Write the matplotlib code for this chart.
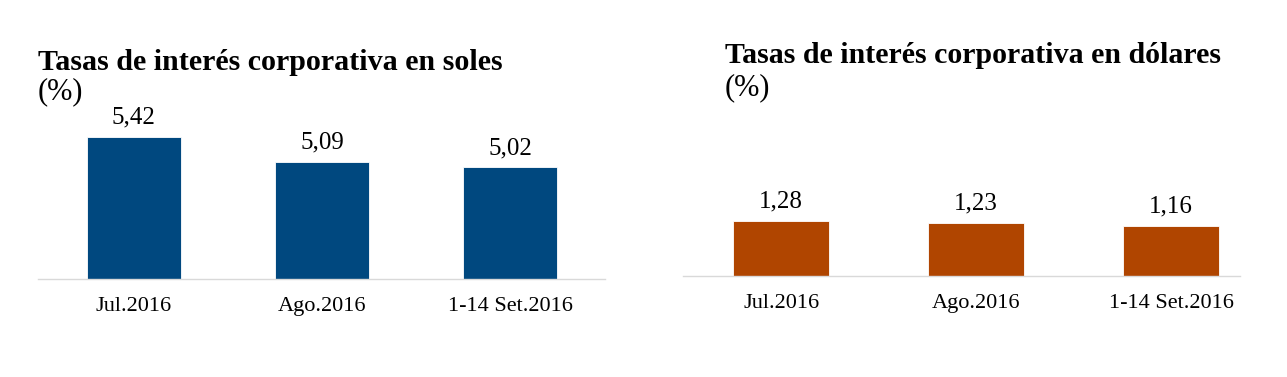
import matplotlib.pyplot as plt

# datos
categorias = ["Jul.2016", "Ago.2016", "1-14 Set.2016"]
tasas_soles = [5.42, 5.09, 5.02]
tasas_dolares = [1.28, 1.23, 1.16]

plt.rcParams['font.family'] = ['Liberation Serif', 'DejaVu Serif']

W, H = 1287, 377
fig = plt.figure(figsize=(W / 100, H / 100), dpi=100)


def px_axes(x0, x1, y_top, y_bot):
    # pixel box -> figure fraction
    return fig.add_axes([x0 / W, 1 - y_bot / H, (x1 - x0) / W, (y_bot - y_top) / H])


def panel(ax, vals, color, ylim, xlim, width):
    pos = list(range(len(categorias)))
    ax.bar(pos, vals, width=width, color=color, edgecolor='white', linewidth=0.6)
    for p, v in zip(pos, vals):
        ax.annotate(f"{v:.2f}".replace('.', ','), (p, v), xytext=(0, 6),
                    textcoords='offset points', ha='center', va='bottom', fontsize=18)
    ax.set_ylim(*ylim)
    ax.set_xlim(*xlim)
    ax.set_xticks(pos)
    ax.set_xticklabels(categorias, fontsize=16)
    ax.tick_params(axis='x', length=0, pad=13)
    ax.set_yticks([])
    for s in ['top', 'right', 'left']:
        ax.spines[s].set_visible(False)
    ax.spines['bottom'].set_color('#d9d9d9')
    ax.spines['bottom'].set_linewidth(1.0)


# soles
ax1 = px_axes(38, 605, 100, 279)
panel(ax1, tasas_soles, '#00487f', (3.547, 3.547 + 179 / 75.8), (-0.51, 2.505), 0.5)

# dolares
ax2 = px_axes(683, 1240, 100, 276)
panel(ax2, tasas_dolares, '#b04500', (0, 176 / 43.0), (-0.503, 2.354), 0.49)

fig.text(38 / W, 1 - 70 / H, "Tasas de interés corporativa en soles",
         fontsize=21.6, fontweight='bold', va='baseline')
fig.text(38 / W, 1 - 99 / H, "(%)", fontsize=22, va='baseline')
fig.text(725 / W, 1 - 63 / H, "Tasas de interés corporativa en dólares",
         fontsize=21.5, fontweight='bold', va='baseline')
fig.text(725 / W, 1 - 95 / H, "(%)", fontsize=22, va='baseline')

fig.savefig("out.png", dpi=100, facecolor='white')
